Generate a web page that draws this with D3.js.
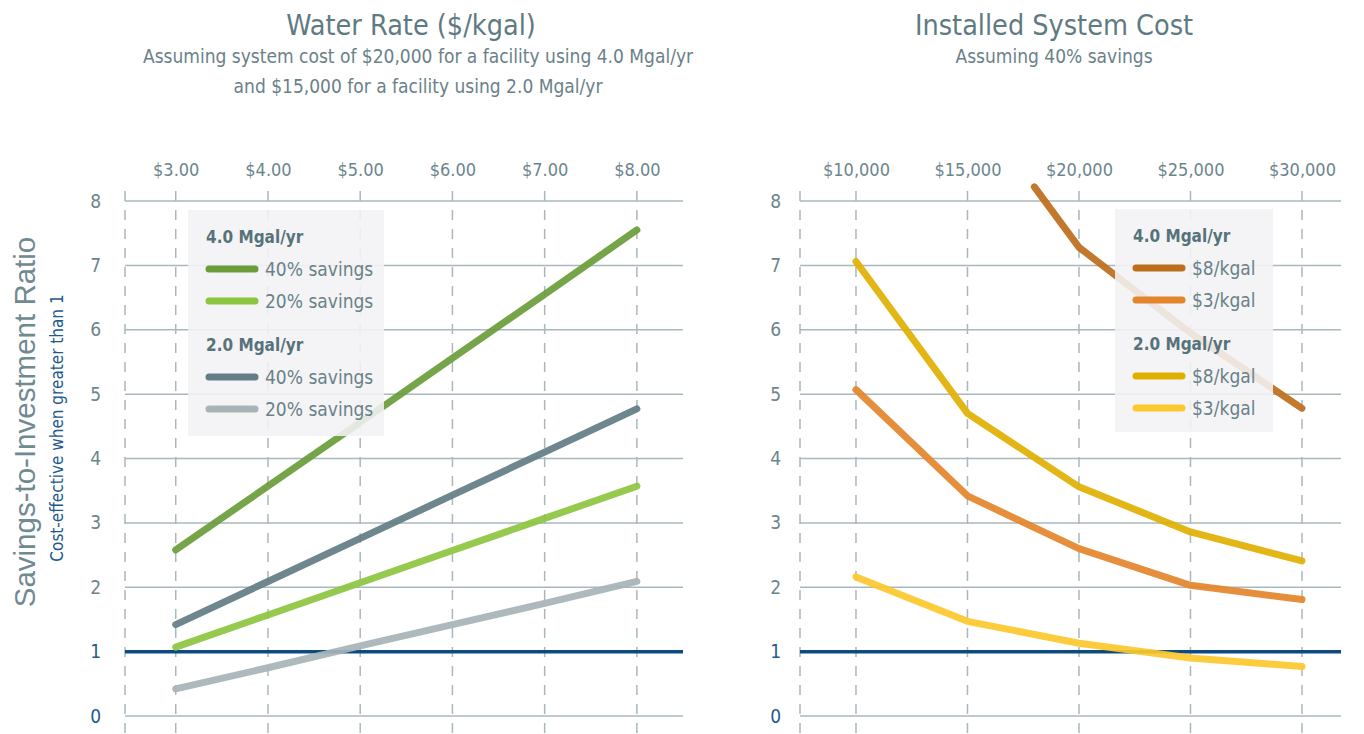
<!DOCTYPE html>
<html>
<head>
<meta charset="utf-8">
<script src="https://cdn.jsdelivr.net/npm/d3@7"></script>
<style>
  html, body { margin: 0; padding: 0; background: #fff; }
  svg { display: block; }
  .cond { font-family: "Liberation Sans Narrow", "DejaVu Sans Condensed", "Arial Narrow", sans-serif; }
</style>
</head>
<body>
<svg id="chart" width="1364" height="734"></svg>
<script>
// ---------- DATA ----------
const waterRates = [3, 4, 5, 6, 7, 8];
const waterRateLabels = ["$3.00", "$4.00", "$5.00", "$6.00", "$7.00", "$8.00"];
const sir4Mgal40 = [2.58, 3.57, 4.56, 5.56, 6.55, 7.55];
const sir4Mgal20 = [1.07, 1.57, 2.07, 2.57, 3.07, 3.57];
const sir2Mgal40 = [1.42, 2.09, 2.76, 3.43, 4.10, 4.77];
const sir2Mgal20 = [0.42, 0.75, 1.09, 1.42, 1.75, 2.09];

const systemCosts = [10000, 15000, 20000, 25000, 30000];
const costLabels = ["$10,000", "$15,000", "$20,000", "$25,000", "$30,000"];
const costs4Mgal8 = [18000, 20000, 25000, 30000];
const sir4Mgal8 = [8.22, 7.28, 5.95, 4.78];
const sir4Mgal3 = [5.07, 3.42, 2.60, 2.03, 1.81];
const sir2Mgal8 = [7.06, 4.70, 3.56, 2.86, 2.41];
const sir2Mgal3 = [2.16, 1.47, 1.13, 0.90, 0.77];

const yTicks = [0, 1, 2, 3, 4, 5, 6, 7, 8];
const threshold = 1;

const leftGroups = [
  { title: "4.0 Mgal/yr", items: [
    { label: "40% savings", color: "#6a9c3a", values: sir4Mgal40 },
    { label: "20% savings", color: "#8cc540", values: sir4Mgal20 } ] },
  { title: "2.0 Mgal/yr", items: [
    { label: "40% savings", color: "#627d85", values: sir2Mgal40 },
    { label: "20% savings", color: "#a7b3b7", values: sir2Mgal20 } ] }
];
const rightGroups = [
  { title: "4.0 Mgal/yr", items: [
    { label: "$8/kgal", color: "#bd6e1b", xs: costs4Mgal8, values: sir4Mgal8 },
    { label: "$3/kgal", color: "#e3852c", xs: systemCosts, values: sir4Mgal3 } ] },
  { title: "2.0 Mgal/yr", items: [
    { label: "$8/kgal", color: "#e0b000", xs: systemCosts, values: sir2Mgal8 },
    { label: "$3/kgal", color: "#fdc82c", xs: systemCosts, values: sir2Mgal3 } ] }
];

// ---------- STYLE ----------
const titleColor = "#5f7b82";
const tickColor = "#6b858c";
const blue = "#0d4a80";
const gridColor = "#a9b8bd";

const svg = d3.select("#chart");

const y = d3.scaleLinear().domain([0, 8]).range([716, 201]);
const xL = d3.scaleLinear().domain([2.45, 8.5]).range([125, 683]);
const xR = d3.scaleLinear().domain([7490, 31750]).range([800, 1341]);

function drawPanel(x, xTicks, xLabels, labelPad) {
  const g = svg.append("g");
  const [x0, x1] = x.range();
  g.selectAll("line.h").data(yTicks).join("line")
    .attr("x1", x0).attr("x2", x1)
    .attr("y1", d => y(d)).attr("y2", d => y(d))
    .attr("stroke", gridColor).attr("stroke-width", 1.5);
  const vx = [x.domain()[0]].concat(xTicks);
  g.selectAll("line.v").data(vx).join("line")
    .attr("x1", d => x(d)).attr("x2", d => x(d))
    .attr("y1", 191).attr("y2", 736)
    .attr("stroke", gridColor).attr("stroke-width", 1.5)
    .attr("stroke-dasharray", "10,9");
  const top = g.append("g").attr("transform", `translate(0,${y(8)})`)
    .call(d3.axisTop(x).tickValues(xTicks).tickFormat((d, i) => xLabels[i]).tickSize(0).tickPadding(25));
  top.select(".domain").remove();
  top.selectAll("text").attr("class", "cond").attr("font-size", 18).attr("fill", tickColor);
  const left = g.append("g").attr("transform", `translate(${x0},0)`)
    .call(d3.axisLeft(y).tickValues(yTicks).tickFormat(d3.format("d")).tickSize(0).tickPadding(labelPad));
  left.select(".domain").remove();
  left.selectAll("text").attr("class", "cond").attr("font-size", 19)
    .attr("fill", d => d <= 1 ? "#1f5a8c" : tickColor);
  g.append("line").attr("x1", x0).attr("x2", x1)
    .attr("y1", y(threshold)).attr("y2", y(threshold))
    .attr("stroke", blue).attr("stroke-width", 3.5);
  return g;
}

function drawLines(g, x, series) {
  const line = d3.line().x(d => x(d[0])).y(d => y(d[1]));
  g.selectAll("path.s").data(series).join("path")
    .attr("d", s => line(s.pts))
    .attr("fill", "none").attr("stroke", s => s.color)
    .attr("stroke-width", 7).attr("stroke-linecap", "round").attr("stroke-linejoin", "round")
    .attr("opacity", 0.92);
}

function drawLegend(groups, bx, by, bw, bh) {
  const g = svg.append("g");
  g.append("rect").attr("x", bx).attr("y", by).attr("width", bw).attr("height", bh)
    .attr("fill", "#f2f3f5").attr("opacity", 0.88);
  let cy = by + 27;
  groups.forEach(grp => {
    g.append("text").attr("class", "cond").attr("x", bx + 18).attr("y", cy + 6)
      .attr("font-size", 17).attr("font-weight", "bold").attr("fill", "#56727a").text(grp.title);
    cy += 32;
    grp.items.forEach(it => {
      g.append("line").attr("x1", bx + 21).attr("x2", bx + 67).attr("y1", cy).attr("y2", cy)
        .attr("stroke", it.color).attr("stroke-width", 7).attr("stroke-linecap", "round");
      g.append("text").attr("class", "cond").attr("x", bx + 77).attr("y", cy + 7)
        .attr("font-size", 19).attr("fill", "#6a8189").text(it.label);
      cy += 32;
    });
    cy += 12;
  });
}

// ---------- LEFT PANEL ----------
const gL = drawPanel(xL, waterRates, waterRateLabels, 24);
const leftSeries = [];
leftGroups.forEach(grp => grp.items.forEach(it =>
  leftSeries.push({ color: it.color, pts: waterRates.map((r, i) => [r, it.values[i]]) })));
drawLines(gL, xL, leftSeries);
drawLegend(leftGroups, 188, 210, 196, 226);

// ---------- RIGHT PANEL ----------
const gR = drawPanel(xR, systemCosts, costLabels, 19);
const rightSeries = [];
rightGroups.forEach(grp => grp.items.forEach(it =>
  rightSeries.push({ color: it.color, pts: it.xs.map((c, i) => [c, it.values[i]]) })));
drawLines(gR, xR, rightSeries);
drawLegend(rightGroups, 1115, 209, 158, 223);

// ---------- TITLES ----------
function text(xp, yp, str, size, color, cls, anchor) {
  return svg.append("text").attr("x", xp).attr("y", yp).attr("text-anchor", anchor || "middle")
    .attr("class", cls || "cond").attr("font-size", size).attr("fill", color).text(str);
}
text(411, 35, "Water Rate ($/kgal)", 28.5, titleColor);
text(418, 63, "Assuming system cost of $20,000 for a facility using 4.0 Mgal/yr", 19, "#6a8189");
text(418, 93, "and $15,000 for a facility using 2.0 Mgal/yr", 19, "#6a8189");
text(1054, 35, "Installed System Cost", 28.5, titleColor);
text(1054, 63, "Assuming 40% savings", 19, "#6a8189");

svg.append("text").attr("transform", "translate(35,422) rotate(-90)")
  .attr("text-anchor", "middle").attr("font-family", "'Liberation Sans', Arial, sans-serif")
  .attr("font-size", 29.5).attr("fill", "#6f8a91").text("Savings-to-Investment Ratio");
svg.append("text").attr("transform", "translate(63,428) rotate(-90)")
  .attr("text-anchor", "middle").attr("class", "cond")
  .attr("font-size", 17).attr("fill", "#1f5a8c").text("Cost-effective when greater than 1");
</script>
</body>
</html>
